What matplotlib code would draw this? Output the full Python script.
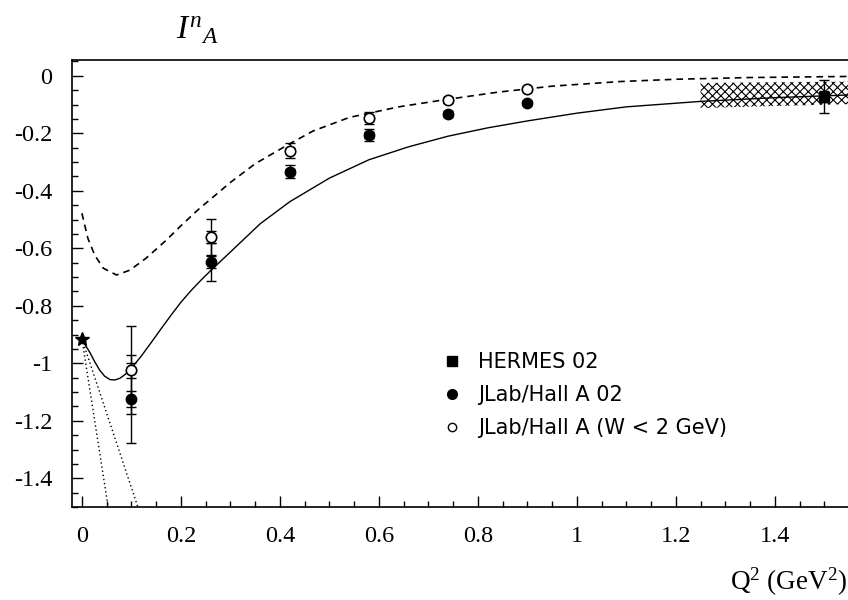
import numpy as np
import matplotlib
matplotlib.use('Agg')
import matplotlib.pyplot as plt
from matplotlib.ticker import MultipleLocator, FuncFormatter
from matplotlib.lines import Line2D

plt.rcParams['font.family'] = 'Liberation Serif'
plt.rcParams['mathtext.fontset'] = 'custom'
plt.rcParams['mathtext.rm'] = 'Liberation Serif'
plt.rcParams['mathtext.it'] = 'Liberation Serif:italic'
plt.rcParams['axes.unicode_minus'] = False
plt.rcParams['font.size'] = 17.5
plt.rcParams['hatch.linewidth'] = 0.8

# JLab / Hall A 02 (filled) and W < 2 GeV (open)
q2_jlab = [0.10, 0.26, 0.42, 0.58, 0.74, 0.90]
ia_jlab = [-1.125, -0.648, -0.333, -0.206, -0.133, -0.095]
stat_jlab = [0.027, 0.020, 0.010, 0.010, 0.008, 0.006]
tot_jlab = [0.153, 0.066, 0.022, 0.020, 0.010, 0.008]

ia_open = [-1.024, -0.561, -0.260, -0.147, -0.084, -0.046]
stat_open = [0.026, 0.020, 0.010, 0.008, 0.006, 0.005]
tot_open = [0.153, 0.063, 0.027, 0.020, 0.010, 0.008]

# HERMES 02
q2_hermes = [1.5]
ia_hermes = [-0.072]
stat_hermes = [0.020]
tot_hermes = [0.058]

# GDH point at Q2 = 0
q2_gdh = [0.0]
ia_gdh = [-0.915]

# model curves
q2_solid = [0.0, 0.008, 0.016, 0.026, 0.036, 0.046, 0.057, 0.067, 0.077, 0.088,
            0.10, 0.12, 0.14, 0.16, 0.18, 0.20, 0.22, 0.24, 0.26, 0.30, 0.36,
            0.42, 0.50, 0.58, 0.66, 0.74, 0.82, 0.90, 1.00, 1.10, 1.25, 1.40, 1.56]
ia_solid = [-0.915, -0.940, -0.962, -0.995, -1.024, -1.045, -1.057, -1.058, -1.052,
            -1.038, -1.017, -0.975, -0.928, -0.880, -0.833, -0.788, -0.748, -0.712,
            -0.678, -0.613, -0.515, -0.438, -0.356, -0.292, -0.247, -0.210, -0.181,
            -0.157, -0.130, -0.108, -0.089, -0.076, -0.066]

q2_dash = [0.0, 0.012, 0.026, 0.043, 0.07, 0.097, 0.13, 0.171, 0.198, 0.234, 0.30,
           0.35, 0.416, 0.467, 0.54, 0.64, 0.73, 0.84, 0.95, 1.087, 1.20, 1.35, 1.56]
ia_dash = [-0.478, -0.565, -0.624, -0.669, -0.693, -0.676, -0.634, -0.571, -0.525,
           -0.467, -0.371, -0.306, -0.240, -0.192, -0.145, -0.108, -0.084, -0.057,
           -0.036, -0.020, -0.012, -0.006, -0.002]

# low-Q2 expansions (dotted)
q2_dot1 = [0.0, 0.06]
ia_dot1 = [-0.915, -1.577]
q2_dot2 = [0.0, 0.12]
ia_dot2 = [-0.915, -1.536]

# hatched band at large Q2
q2_band = [1.25, 1.56]
band_hi = [-0.025, -0.020]
band_lo = [-0.112, -0.098]

fig = plt.figure(figsize=(8.48, 6.0), dpi=100)
ax = fig.add_axes([72 / 848, 93 / 600, 782 / 848, 447 / 600])

ax.fill_between(q2_band, band_lo, band_hi, facecolor='none', edgecolor='black',
                hatch='xxxx', linewidth=0)
ax.plot(q2_solid, ia_solid, color='black', lw=1.0)
ax.plot(q2_dash, ia_dash, color='black', lw=1.2, ls=(0, (4, 3)))
ax.plot(q2_dot1, ia_dot1, color='black', lw=1.0, ls=(0, (1, 2)))
ax.plot(q2_dot2, ia_dot2, color='black', lw=1.0, ls=(0, (1, 2)))

eb = dict(fmt='none', ecolor='black', elinewidth=1.0, capsize=3.6, capthick=1.0)
ax.errorbar(q2_jlab, ia_jlab, yerr=tot_jlab, **eb)
ax.errorbar(q2_jlab, ia_jlab, yerr=stat_jlab, **eb)
ax.errorbar(q2_jlab, ia_open, yerr=tot_open, **eb)
ax.errorbar(q2_jlab, ia_open, yerr=stat_open, **eb)
ax.errorbar(q2_hermes, ia_hermes, yerr=tot_hermes, **eb)
ax.errorbar(q2_hermes, ia_hermes, yerr=stat_hermes, **eb)

ax.plot(q2_jlab, ia_jlab, 'o', color='black', ms=7.5, ls='none')
ax.plot(q2_jlab, ia_open, 'o', mfc='white', mec='black', mew=1.2, ms=7.5, ls='none')
ax.plot(q2_hermes, ia_hermes, 's', color='black', ms=7, ls='none')
ax.plot(q2_gdh, ia_gdh, '*', color='black', ms=10, ls='none', clip_on=False)

ax.set_xlim(-0.02, 1.56)
ax.set_ylim(-1.5, 0.055)

ax.xaxis.set_major_locator(MultipleLocator(0.2))
ax.xaxis.set_minor_locator(MultipleLocator(0.05))
ax.yaxis.set_major_locator(MultipleLocator(0.2))
ax.yaxis.set_minor_locator(MultipleLocator(0.05))
fmt = FuncFormatter(lambda v, p: '%g' % round(v, 3))
ax.xaxis.set_major_formatter(fmt)
ax.yaxis.set_major_formatter(fmt)
ax.tick_params(which='both', direction='in', top=False, right=False, width=1.0)
ax.tick_params(which='major', length=8, pad=14, labelsize=17.5)
ax.tick_params(which='minor', length=4)
ax.spines['right'].set_visible(False)
for s in ['left', 'bottom', 'top']:
    ax.spines[s].set_linewidth(1.2)

handles = [Line2D([], [], marker='s', color='black', ls='none', ms=7),
           Line2D([], [], marker='o', color='black', ls='none', ms=7),
           Line2D([], [], marker='o', mfc='white', mec='black', ls='none', ms=6)]
labels = ['HERMES 02', 'JLab/Hall A 02', 'JLab/Hall A (W < 2 GeV)']
ax.legend(handles, labels, loc='upper left', bbox_to_anchor=(442 / 848, 1 - 352 / 600),
          bbox_transform=fig.transFigure, frameon=False, handlelength=1.0,
          handletextpad=0.75, borderpad=0, borderaxespad=0, labelspacing=0.62,
          prop={'family': 'DejaVu Sans', 'size': 15})

fig.text(197 / 848, 1 - 31 / 600, r'$I^{n}{}_{A}$', fontsize=24, ha='center', va='center')
fig.text(847 / 848, 1 - 582 / 600, r'Q$^2$ (GeV$^2$)', fontsize=19.5, ha='right', va='center')

fig.savefig('out.png', dpi=100)
